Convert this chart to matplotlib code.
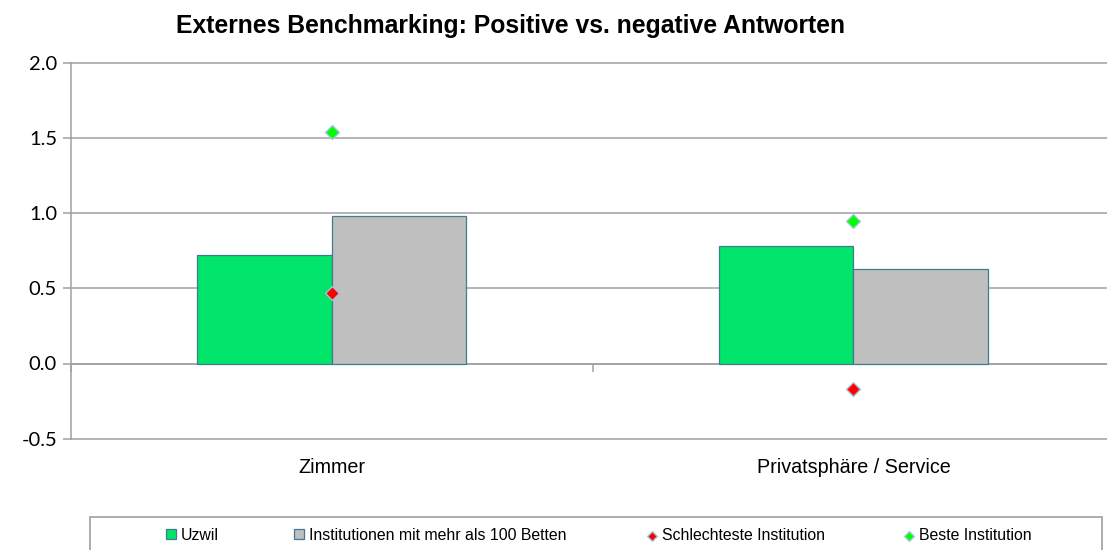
import numpy as np
import matplotlib.pyplot as plt
from matplotlib.patches import Rectangle

# Data
categories = ["Zimmer", "Privatsphäre / Service"]
uzwil = [0.72, 0.78]
institutionen = [0.98, 0.63]
schlechteste = [0.47, -0.17]
beste = [1.54, 0.95]
y_ticks = [-0.5, 0.0, 0.5, 1.0, 1.5, 2.0]

series_labels = ["Uzwil", "Institutionen mit mehr als 100 Betten",
                 "Schlechteste Institution", "Beste Institution"]

# Colours
green_bar = "#00E56A"
grey_bar = "#BFBFBF"
bar_edge = "#3F7C8F"
grid_col = "#A0A0A0"
marker_edge = "#9CC8DA"

fig = plt.figure(figsize=(11.07, 5.5), dpi=100)
ax = fig.add_axes([71 / 1107, 1 - 438.7 / 550, 1 - 71 / 1107, 376 / 550])

x = np.arange(len(categories))
w = 0.258

b1 = ax.bar(x - w / 2, uzwil, w, color=green_bar, edgecolor=bar_edge, linewidth=0.9, zorder=3)
b2 = ax.bar(x + w / 2, institutionen, w, color=grey_bar, edgecolor=bar_edge, linewidth=0.9, zorder=3)
s1 = ax.scatter(x, schlechteste, marker="D", s=50, color="#FF0000",
                edgecolors=marker_edge, linewidths=1.0, zorder=4)
s2 = ax.scatter(x, beste, marker="D", s=50, color="#00FF00",
                edgecolors=marker_edge, linewidths=1.0, zorder=4)

ax.set_xlim(-0.5, 1.486)
ax.set_ylim(-0.5, 2.0)

# y axis
ax.set_yticks(y_ticks)
ax.set_yticklabels([f"{v:.1f}" for v in y_ticks], family="Lato", fontsize=14.5)
ax.tick_params(axis="y", length=6, width=1.1, color=grid_col, pad=4)
ax.yaxis.grid(True, color=grid_col, linewidth=1.1, zorder=0)
for gl in ax.yaxis.get_gridlines():
    gl.set_clip_on(False)

ax.spines["top"].set_visible(False)
ax.spines["right"].set_visible(False)
ax.spines["left"].set_color(grid_col)
ax.spines["left"].set_linewidth(1.1)

# horizontal axis crosses at zero, ticks at category boundaries
ax.spines["bottom"].set_position(("data", 0))
ax.spines["bottom"].set_color(grid_col)
ax.spines["bottom"].set_linewidth(1.1)
ax.set_xticks(x - 0.5)
ax.set_xticklabels([])
ax.tick_params(axis="x", length=6, width=1.1, color=grid_col)

# category labels below the plot area
sec = ax.secondary_xaxis(0)
sec.set_xticks(x)
sec.set_xticklabels(categories, family="Liberation Sans", fontsize=14.2)
sec.tick_params(length=0, pad=14)
sec.spines["bottom"].set_visible(False)

fig.text(510 / 1107, 1 - 26 / 550, "Externes Benchmarking: Positive vs. negative Antworten",
         family="Liberation Sans", fontweight="bold", fontsize=17.8, ha="center", va="center")

# legend frame and entries
fig.add_artist(Rectangle((90 / 1107, -0.05), (1102 - 90) / 1107, 0.05 + 1 - 517 / 550,
                         transform=fig.transFigure, fill=False, edgecolor="#A6A6A6",
                         linewidth=1.3))
handles = [b1, b2, s1, s2]
starts = [166, 294, 647, 904]
for h, lab, xs in zip(handles, series_labels, starts):
    fig.legend([h], [lab], loc="center left", bbox_to_anchor=(xs / 1107, 1 - 535 / 550),
               frameon=False, borderpad=0, borderaxespad=0, handlelength=0.65,
               handleheight=0.65, handletextpad=0.3, markerscale=0.7, scatterpoints=1,
               prop={"family": "Liberation Sans", "size": 11.4})

fig.savefig("out.png", dpi=100)
